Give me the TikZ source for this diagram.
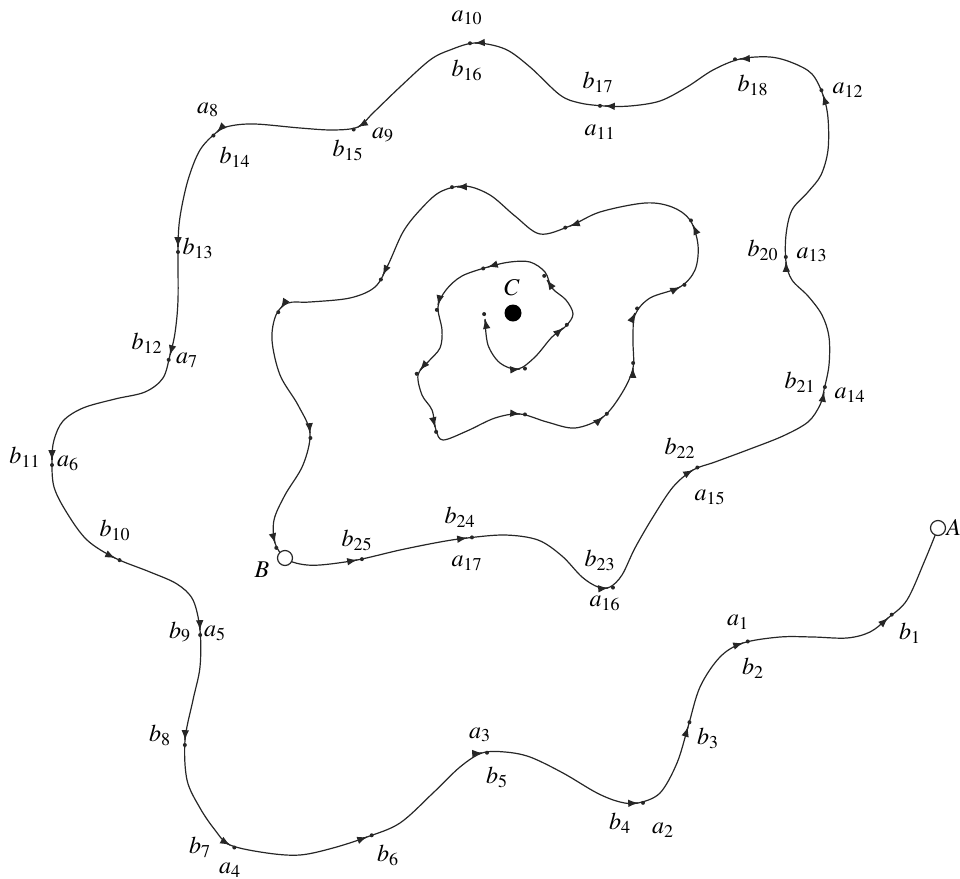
\documentclass[tikz,border=0pt]{standalone}
\usepackage{mathptmx}
\usetikzlibrary{arrows.meta, backgrounds}

\begin{document}
\begin{tikzpicture}[
    x=0.5pt, y=-0.5pt,
    font=\fontsize{12}{14}\selectfont,
    lbl/.style={inner sep=0pt},
    endpt/.style={circle, draw=black!85, fill=white, line width=0.6pt,
      minimum size=7.5pt, inner sep=0pt},
    spiral/.style={black!85, line width=0.6pt},
    mk/.style={-{Latex[length=5pt, width=3.8pt]}, black!85, line width=0.6pt}
  ]
  \useasboundingbox (0,0) rectangle (960,879);
  % end points
  \coordinate (s) at (485,320);
  \node[endpt] (A) at (938,528) {};
  \node[endpt] (B) at (285,558) {};
  \node[circle, fill=black, minimum size=8.5pt, inner sep=0pt] (C) at (513,313) {};
  \node[lbl, anchor=west] (lA) at (946,527) {$A$};
  \node[lbl] (lB) at (262,570) {$B$};
  \node[lbl] (lC) at (512,288) {$C$};
  % labels
  \node[lbl] (la1)  at (738,622) {$a_1$};
  \node[lbl] (lb1)  at (910,633) {$b_1$};
  \node[lbl] (la2)  at (663,830) {$a_2$};
  \node[lbl] (lb2)  at (753,668) {$b_2$};
  \node[lbl] (la3)  at (480,735) {$a_3$};
  \node[lbl] (lb3)  at (708,738) {$b_3$};
  \node[lbl] (la4)  at (230,870) {$a_4$};
  \node[lbl] (lb4)  at (620,823) {$b_4$};
  \node[lbl] (la5)  at (215,633) {$a_5$};
  \node[lbl] (lb5)  at (497,777) {$b_5$};
  \node[lbl] (la6)  at (68,463)  {$a_6$};
  \node[lbl] (lb6)  at (388,855) {$b_6$};
  \node[lbl] (la7)  at (187,360) {$a_7$};
  \node[lbl] (lb7)  at (200,847) {$b_7$};
  \node[lbl] (la8)  at (208,110) {$a_8$};
  \node[lbl] (lb8)  at (160,735) {$b_8$};
  \node[lbl] (la9)  at (383,135) {$a_9$};
  \node[lbl] (lb9)  at (180,632) {$b_9$};
  \node[lbl] (la10) at (467,18)  {$a_{10}$};
  \node[lbl] (lb10) at (115,530) {$b_{10}$};
  \node[lbl] (la11) at (600,132) {$a_{11}$};
  \node[lbl] (lb11) at (25,457)  {$b_{11}$};
  \node[lbl] (la12) at (848,90)  {$a_{12}$};
  \node[lbl] (lb12) at (147,343) {$b_{12}$};
  \node[lbl] (la13) at (812,255) {$a_{13}$};
  \node[lbl] (lb13) at (198,248) {$b_{13}$};
  \node[lbl] (la14) at (850,395) {$a_{14}$};
  \node[lbl] (lb14) at (235,157) {$b_{14}$};
  \node[lbl] (la15) at (710,497) {$a_{15}$};
  \node[lbl] (lb15) at (348,150) {$b_{15}$};
  \node[lbl] (la16) at (605,603) {$a_{16}$};
  \node[lbl] (lb16) at (467,70)  {$b_{16}$};
  \node[lbl] (la17) at (467,563) {$a_{17}$};
  \node[lbl] (lb17) at (598,82)  {$b_{17}$};
  \node[lbl] (lb18) at (753,85)  {$b_{18}$};
  \node[lbl] (lb20) at (763,250) {$b_{20}$};
  \node[lbl] (lb21) at (800,382) {$b_{21}$};
  \node[lbl] (lb22) at (680,448) {$b_{22}$};
  \node[lbl] (lb23) at (600,560) {$b_{23}$};
  \node[lbl] (lb24) at (460,517) {$b_{24}$};
  \node[lbl] (lb25) at (357,540) {$b_{25}$};
  % the spiral from C out through B to A
  \begin{scope}[on background layer]
    \draw[spiral] plot[smooth, tension=0.55] coordinates {
      (s) (488,345) (500,363) (518,369) (535,357) (552,337) (566,326)
      (573,314) (566,300) (552,288) (545,272) (530,262) (510,262)
      (488,267) (462,276) (446,290) (438,307) (442,330) (440,348)
      (428,362) (418,375) (422,395) (432,410) (436,430) (443,440)
      (467,431) (495,418) (520,414) (547,422) (575,428) (603,417)
      (622,393) (633,368) (633,340) (635,315) (650,298) (680,287)
      (695,270) (698,245) (690,220) (672,207) (645,203) (600,212)
      (570,226) (540,234) (515,216) (490,195) (465,186) (440,192)
      (420,210) (403,232) (388,265) (375,287) (350,298) (310,302)
      (288,303) (276,315) (272,340) (280,375) (298,405) (310,433)
      (303,465) (285,495) (274,520) (275,543) (B.center)
      (300,564) (320,565) (357,560) (400,550) (440,542) (467,538)
      (505,535) (538,540) (562,556) (582,577) (598,587) (610,587)
      (622,575) (635,548) (653,517) (673,487) (693,470) (715,462)
      (750,449) (783,436) (808,422) (820,405) (824,390) (829,365)
      (829,337) (822,315) (808,296) (792,280) (786,262) (786,235)
      (792,210) (808,192) (821,175) (828,150) (828,118) (823,95)
      (812,74) (793,63) (770,57) (740,59) (713,70) (687,87) (660,101)
      (630,106) (605,106) (580,103) (560,95) (530,67) (505,49) (475,43)
      (450,50) (430,60) (400,87) (373,113) (358,127) (333,130)
      (300,128) (255,124) (230,126) (217,132) (200,150) (188,180)
      (180,217) (178,247) (178,300) (175,333) (170,355) (163,378)
      (145,392) (115,399) (83,408) (63,421) (54,440) (52,460) (54,487)
      (67,513) (87,540) (115,558) (150,572) (177,584) (193,600)
      (200,630) (200,667) (193,700) (185,740) (187,780) (200,808)
      (215,830) (230,845) (267,853) (300,855) (333,848) (367,837)
      (400,823) (433,793) (460,767) (482,753) (505,752) (530,757)
      (563,773) (597,793) (620,802) (638,803) (660,793) (677,763)
      (688,727) (700,687) (720,657) (743,643) (780,637) (813,637)
      (847,638) (870,632) (888,618) (907,600) (925,560) (A.center)};
  \end{scope}
  % arrow marks along the spiral
  \foreach \x/\y/\a in {485/319/100, 520/369/5, 563/328/40, 547/280/124,
      488/267/197, 438/305/257, 420/370/229, 435/427/283, 520/414/355,
      603/417/40, 633/368/88, 635/313/65, 680/287/26, 693/225/114,
      570/226/199, 457/187/182, 383/275/245, 281/308/237, 310/433/275,
      275/543/285,
      357/560/10, 467/538/7, 608/588/5, 693/470/30, 824/392/80,
      786/262/92, 823/95/108, 740/59/183, 605/106/178, 475/43/183,
      358/127/210, 217/132/225, 178/247/270, 170/355/255, 52/460/270,
      115/558/335, 200/630/272, 185/740/268, 230/845/330, 367/837/20,
      482/753/3, 638/803/2, 688/727/73, 743/643/18, 888/618/42} {
    \draw[mk] (\x,\y) -- ++(\a:0.1pt);
    \fill[black!85] (\x,\y) ++(\a:2.5pt) circle (1pt);
  }
\end{tikzpicture}
\end{document}
